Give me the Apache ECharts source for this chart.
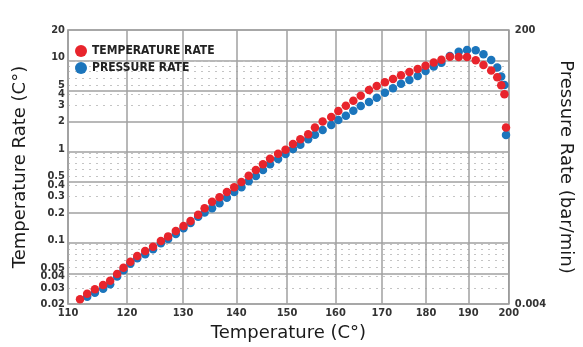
<!DOCTYPE html>
<html>
<head>
<meta charset="utf-8">
<script src="https://cdn.jsdelivr.net/npm/echarts@6/dist/echarts.min.js"></script>
<style>
  html, body { margin: 0; padding: 0; background: #fff; }
  #chart { width: 583px; height: 347px; }
</style>
</head>
<body>
<div id="chart"></div>
<script>
const temperature = [
  112.0, 113.2, 114.5, 115.9, 117.1, 118.3, 119.4, 120.6, 121.8, 123.2,
  124.6, 126.0, 127.3, 128.7, 130.1, 131.4, 132.8, 134.0, 135.4, 136.8,
  138.2, 139.6, 141.0, 142.4, 143.8, 145.2, 146.6, 148.2, 149.7, 151.2,
  152.7, 154.3, 155.7, 157.3, 159.1, 160.6, 162.2, 163.8, 165.4, 167.2,
  168.9, 170.7, 172.5, 174.3, 176.2, 178.1, 179.9, 181.8, 183.6, 185.6,
  187.7, 189.7, 191.8, 193.7, 195.6, 197.1, 198.1, 198.9, 199.3
]
const temperatureRate = [
  0.0225, 0.0259, 0.0290, 0.0323, 0.0360, 0.0426, 0.0499, 0.0581, 0.0671, 0.0761,
  0.0848, 0.0979, 0.110, 0.126, 0.143, 0.162, 0.190, 0.223, 0.264, 0.295,
  0.337, 0.379, 0.433, 0.508, 0.586, 0.677, 0.780, 0.884, 0.978, 1.13,
  1.27, 1.44, 1.71, 1.99, 2.23, 2.59, 2.97, 3.36, 3.82, 4.41,
  4.87, 5.35, 5.81, 6.38, 6.94, 7.48, 8.13, 8.81, 9.46, 10.2,
  10.1, 10.1, 9.32, 8.27, 7.20, 6.08, 4.97, 3.95, 1.71
]
const pressureRate = [
  null, 0.00534, 0.00625, 0.00732, 0.00871, 0.0118, 0.0151, 0.0196, 0.0243, 0.0285,
  0.0347, 0.0440, 0.0521, 0.0635, 0.0795, 0.0980, 0.125, 0.148, 0.175, 0.213,
  0.266, 0.333, 0.401, 0.508, 0.627, 0.794, 0.995, 1.23, 1.49, 1.82,
  2.16, 2.67, 3.20, 3.86, 4.70, 5.72, 6.78, 8.26, 9.94, 11.6,
  13.8, 16.8, 20.0, 24.0, 27.8, 32.5, 39.6, 47.3, 55.0, 71.6,
  84.9, 90.8, 90.1, 76.9, 61.2, 45.5, 32.0, 22.8, 3.16
]

const xTicks = [110, 120, 130, 140, 150, 160, 170, 180, 190, 200]
const leftLabels = [20, 10, 5, 4, 3, 2, 1, 0.5, 0.4, 0.3, 0.2, 0.1, 0.05, 0.04, 0.03, 0.02]
// solid lines every third of a decade
const leftGridLines = [9.283, 4.309, 2, 0.9283, 0.4309, 0.2, 0.09283, 0.04309]
// dotted lines
const leftMinorLines = [
  9, 8, 7, 6, 5, 4, 3,
  0.9, 0.8, 0.7, 0.6, 0.5, 0.4, 0.3,
  0.09, 0.08, 0.07, 0.06, 0.05, 0.04, 0.03
]
const rightLabels = [200, 0.004]

// the chart's x axis runs on reciprocal absolute temperature (1000/K)
const toX = t => 1000 / (t + 273.15)
const fromX = v => 1000 / v - 273.15

const tickFont = {
  fontFamily: "'Liberation Sans Narrow', 'DejaVu Sans Condensed', sans-serif",
  fontWeight: 'bold',
  fontSize: 11,
  color: '#333',
}
const nameFont = {
  fontFamily: "'DejaVu Sans', sans-serif",
  fontSize: 18,
  color: '#1a1a1a',
}
const majorLine = { color: '#a0a0a0', width: 1.5 }

const chart = echarts.init(document.getElementById('chart'))

chart.setOption({
  animation: false,
  grid: {
    left: 68, right: 60, top: 30, bottom: 43,
    show: true, borderColor: '#8a8a8a', borderWidth: 1.5,
  },
  legend: {
    orient: 'vertical',
    left: 70,
    top: 40,
    itemGap: 5,
    itemWidth: 12,
    itemHeight: 12,
    icon: 'circle',
    textStyle: { ...tickFont, fontSize: 12, color: '#222' },
    data: ['TEMPERATURE RATE', 'PRESSURE RATE'],
  },
  xAxis: {
    type: 'value',
    inverse: true,
    min: toX(200),
    max: toX(110),
    name: 'Temperature (C°)',
    nameLocation: 'middle',
    nameGap: 19,
    nameTextStyle: nameFont,
    axisLine: { show: false },
    axisTick: { show: false, customValues: xTicks.map(toX) },
    axisLabel: {
      ...tickFont,
      margin: 4,
      customValues: xTicks.map(toX),
      formatter: v => Math.round(fromX(v)),
    },
    splitLine: { show: true, lineStyle: majorLine },
  },
  yAxis: [{
    type: 'log',
    min: 0.02,
    max: 20,
    position: 'left',
    name: 'Temperature Rate (C°)',
    nameLocation: 'middle',
    nameGap: 37,
    nameRotate: 90,
    nameTextStyle: nameFont,
    axisLine: { show: false },
    axisTick: { show: false, customValues: leftGridLines },
    axisLabel: {
      ...tickFont,
      margin: 3,
      customValues: leftLabels,
      formatter: v => String(v),
    },
    splitLine: { show: true, lineStyle: majorLine },
  }, {
    type: 'log',
    min: 0.004,
    max: 200,
    position: 'right',
    name: 'Pressure Rate (bar/min)',
    nameLocation: 'middle',
    nameGap: 34,
    nameRotate: -90,
    nameTextStyle: nameFont,
    axisLine: { show: false },
    axisTick: { show: false },
    axisLabel: {
      ...tickFont,
      margin: 6,
      customValues: rightLabels,
      formatter: v => String(v),
    },
    splitLine: { show: false },
  }, {
    type: 'log',
    min: 0.02,
    max: 20,
    position: 'left',
    axisLine: { show: false },
    axisTick: { show: false, customValues: leftMinorLines },
    axisLabel: { show: false },
    splitLine: { show: true, lineStyle: { color: '#c4c4c4', width: 1.2, type: [2, 5] } },
  }],
  series: [{
    name: 'PRESSURE RATE',
    type: 'scatter',
    yAxisIndex: 1,
    symbolSize: 8.5,
    itemStyle: { color: '#1b75bc', opacity: 1 },
    data: temperature
      .map((t, i) => [toX(t), pressureRate[i]])
      .filter(d => d[1] != null),
  }, {
    name: 'TEMPERATURE RATE',
    type: 'scatter',
    yAxisIndex: 0,
    symbolSize: 8.5,
    itemStyle: { color: '#e8242c', opacity: 1 },
    data: temperature.map((t, i) => [toX(t), temperatureRate[i]]),
  }],
})
</script>
</body>
</html>
